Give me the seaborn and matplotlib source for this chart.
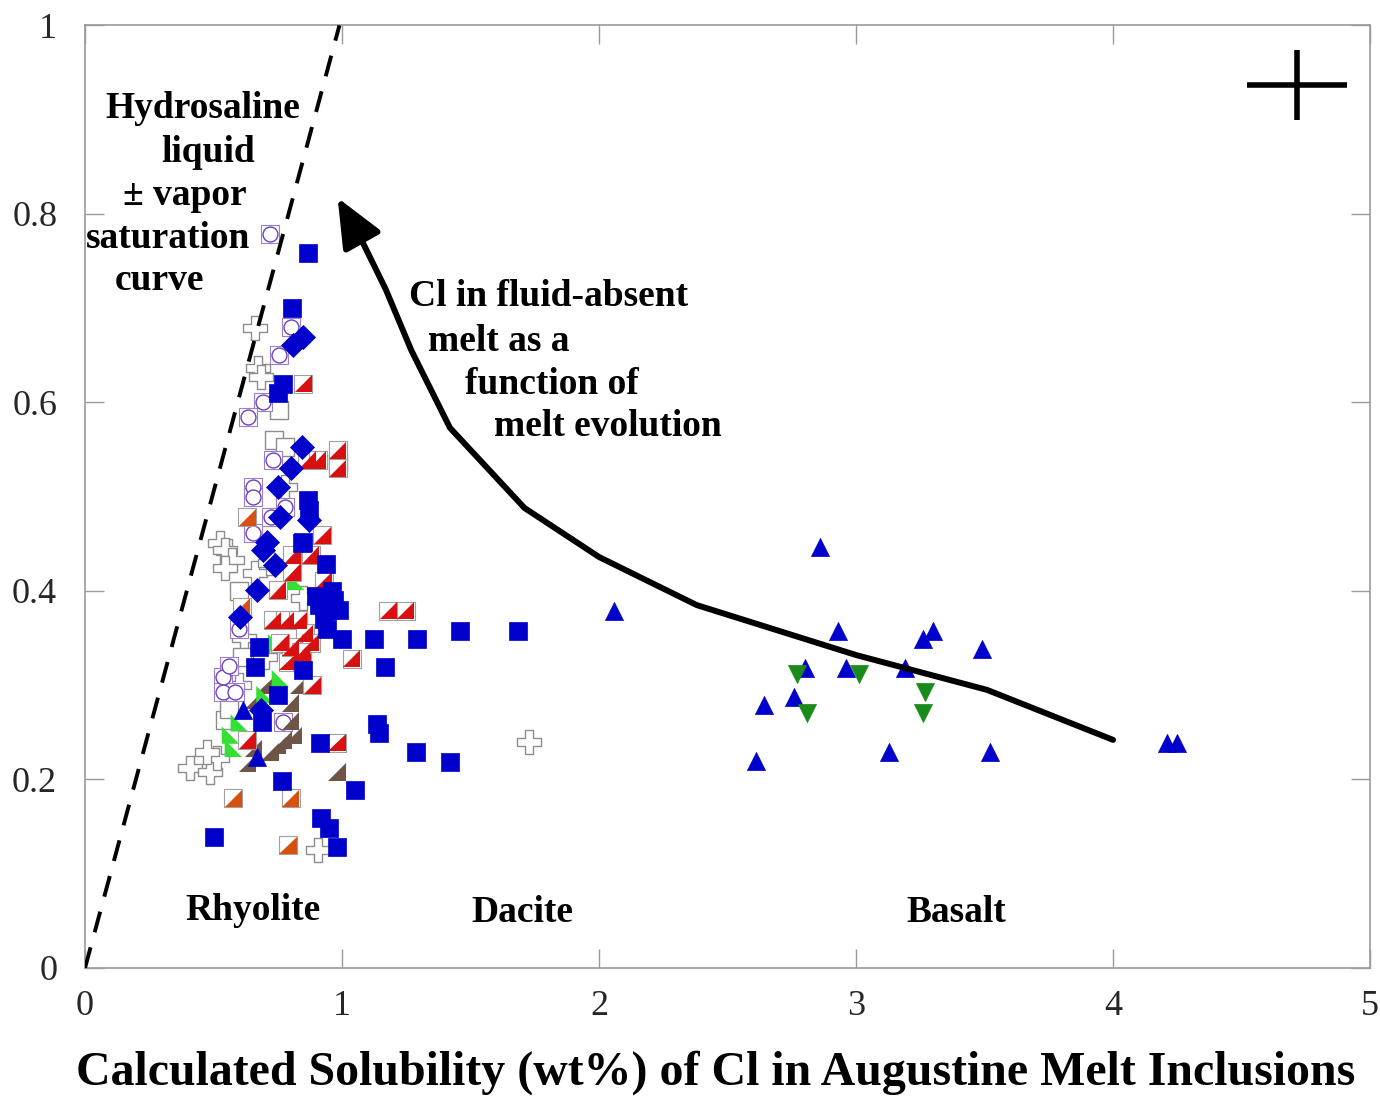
import numpy as np
import pandas as pd
import matplotlib
matplotlib.use("Agg")
import matplotlib.pyplot as plt
from matplotlib.path import Path
import seaborn as sns

# ---------------- data ----------------
blue_sq_x = [1.46, 1.685, 1.125, 1.29, 1.0, 1.166, 1.135, 1.143, 1.287, 1.42,
             0.50, 0.768, 1.05, 0.917, 0.948, 0.98, 0.913,
             0.663, 0.85, 0.749, 0.69, 0.676,
             0.85, 0.936, 0.91, 0.95, 0.93, 0.97, 0.90, 0.96, 0.94, 0.99,
             0.866, 0.87, 0.846, 0.866, 0.807, 0.772, 0.749]
blue_sq_y = [0.358, 0.358, 0.349, 0.349, 0.349, 0.319, 0.259, 0.249, 0.229, 0.218,
             0.139, 0.198, 0.189, 0.159, 0.148, 0.128, 0.239,
             0.319, 0.316, 0.290, 0.261, 0.340,
             0.452, 0.429, 0.385, 0.380, 0.370, 0.390, 0.395, 0.400, 0.360, 0.380,
             0.496, 0.486, 0.451, 0.759, 0.700, 0.620, 0.610]

blue_dia_x = [0.694, 0.741, 0.67, 0.605, 0.846, 0.80, 0.749, 0.76, 0.71, 0.85, 0.811, 0.683, 0.87]
blue_dia_y = [0.443, 0.427, 0.401, 0.372, 0.553, 0.530, 0.510, 0.478, 0.452, 0.669, 0.661, 0.274, 0.475]

purple_x = [0.72, 0.80, 0.753, 0.694, 0.636, 0.73, 0.655, 0.655, 0.78, 0.722, 0.655,
            0.538, 0.538, 0.585, 0.772, 0.56, 0.60]
purple_y = [0.779, 0.68, 0.65, 0.60, 0.584, 0.539, 0.51, 0.50, 0.489, 0.478, 0.461,
            0.309, 0.293, 0.293, 0.261, 0.32, 0.36]

cross_x = [0.663, 0.675, 0.683, 0.78, 0.527, 0.546, 0.573, 0.546, 0.663, 0.85,
           0.41, 0.488, 0.515, 0.476, 0.905, 1.728, 0.72, 0.62, 0.70, 0.60]
cross_y = [0.679, 0.637, 0.627, 0.51, 0.451, 0.443, 0.433, 0.424, 0.419, 0.393,
           0.212, 0.208, 0.223, 0.229, 0.125, 0.240, 0.43, 0.35, 0.33, 0.30]

open_sq_x = [0.735, 0.78, 0.753, 0.983, 0.546, 0.56, 0.61, 0.60]
open_sq_y = [0.56, 0.553, 0.592, 0.536, 0.263, 0.275, 0.33, 0.40]

half_red_x = [1.18, 1.248, 1.037, 0.98, 0.79, 0.846, 0.885, 0.632, 0.807, 0.878, 0.807,
              0.928, 0.749, 0.73, 0.78, 0.83, 0.855, 0.878, 0.865, 0.905, 0.983, 0.983,
              0.924, 0.85, 0.80, 0.84, 0.76]
half_red_y = [0.379, 0.379, 0.328, 0.239, 0.325, 0.325, 0.300, 0.242, 0.438, 0.438, 0.420,
              0.411, 0.401, 0.369, 0.369, 0.369, 0.355, 0.345, 0.539, 0.539, 0.549, 0.530,
              0.459, 0.620, 0.340, 0.335, 0.345]

half_orange_x = [0.577, 0.80, 0.79, 0.632, 0.61]
half_orange_y = [0.180, 0.180, 0.130, 0.478, 0.383]

brown_x = [0.98, 0.80, 0.655, 0.655, 0.632, 0.749, 0.772, 0.811, 0.72, 0.80, 0.83, 0.70]
brown_y = [0.208, 0.281, 0.284, 0.233, 0.217, 0.236, 0.242, 0.247, 0.229, 0.262, 0.30, 0.30]

green_x = [0.76, 0.566, 0.577, 0.82, 0.745, 0.60, 0.70]
green_y = [0.307, 0.247, 0.233, 0.41, 0.345, 0.26, 0.29]

basalt_up_x = [2.86, 2.93, 3.30, 3.26, 3.49, 2.80, 2.96, 3.19, 2.76, 2.64, 3.13, 3.52, 2.61,
               4.21, 4.25, 2.06, 0.616, 0.671]
basalt_up_y = [0.447, 0.358, 0.358, 0.349, 0.338, 0.318, 0.318, 0.318, 0.288, 0.279, 0.229,
               0.229, 0.220, 0.239, 0.239, 0.379, 0.274, 0.224]

basalt_down_x = [2.77, 3.01, 3.27, 2.81, 3.26]
basalt_down_y = [0.312, 0.312, 0.293, 0.271, 0.271]

curve_x = [4.0, 3.51, 3.0, 2.38, 2.0, 1.71, 1.42, 1.27, 1.17, 1.08]
curve_y = [0.242, 0.295, 0.332, 0.385, 0.436, 0.488, 0.573, 0.655, 0.72, 0.77]
arrow_tip = (0.983, 0.817)

sat_x = [0.0, 0.99]
sat_y = [0.0, 1.0]

err_center = (4.715, 0.937)
err_dx = 0.195
err_dy = 0.037

x_ticks = [0, 1, 2, 3, 4, 5]
y_ticks = [0, 0.2, 0.4, 0.6, 0.8, 1]
y_ticklabels = ["0", "0.2", "0.4", "0.6", "0.8", "1"]

x_label = 'Calculated Solubility (wt%) of Cl in Augustine Melt Inclusions'

# ---------------- style ----------------
sns.set_theme(style="white")
plt.rcParams['font.family'] = ['Liberation Serif', 'DejaVu Serif']
plt.rcParams['axes.edgecolor'] = '#9a9a9a'
plt.rcParams['axes.linewidth'] = 1.2

fig = plt.figure(figsize=(13.8, 11.01), dpi=100)
ax = fig.add_axes([0.0616, 0.1208, 0.9312, 0.8562])
ax.set_facecolor('white')

tri_lr = Path([(-1, -1), (1, -1), (1, 1), (-1, -1)], [Path.MOVETO, Path.LINETO, Path.LINETO, Path.CLOSEPOLY])
tri_ll = Path([(-1, -1), (1, -1), (-1, 1), (-1, -1)], [Path.MOVETO, Path.LINETO, Path.LINETO, Path.CLOSEPOLY])

S = 155

def sc(x, y, **kw):
    sns.scatterplot(x=x, y=y, ax=ax, legend=False, **kw)

# open crosses
sc(cross_x, cross_y, marker='P', s=280, color='white', edgecolor='#8c8c8c', linewidth=1.0, zorder=3)
# open squares
sc(open_sq_x, open_sq_y, marker='s', s=S, color='white', edgecolor='#8c8c8c', linewidth=1.0, zorder=3)
# purple circle in square
sc(purple_x, purple_y, marker='s', s=S, color='white', edgecolor='#9a80d0', linewidth=0.8, zorder=3)
sc(purple_x, purple_y, marker='o', s=115, color='white', edgecolor='#7040c0', linewidth=1.0, zorder=3)
# brown half triangles
sc(brown_x, brown_y, marker=tri_lr, s=S, color='#6e5548', edgecolor='none', linewidth=0, zorder=4)
# green half triangles
sc(green_x, green_y, marker=tri_ll, s=S, color='#33e033', edgecolor='none', linewidth=0, zorder=4)
# half-red squares
sc(half_red_x, half_red_y, marker='s', s=S, color='white', edgecolor='#a0a0a0', linewidth=0.8, zorder=4)
sc(half_red_x, half_red_y, marker=tri_lr, s=S, color='#d81010', edgecolor='none', linewidth=0, zorder=4)
sc(half_orange_x, half_orange_y, marker='s', s=S, color='white', edgecolor='#a0a0a0', linewidth=0.8, zorder=4)
sc(half_orange_x, half_orange_y, marker=tri_lr, s=S, color='#d85010', edgecolor='none', linewidth=0, zorder=4)
# blue squares & diamonds
sc(blue_sq_x, blue_sq_y, marker='s', s=S, color='#0000cc', edgecolor='#0000cc', linewidth=0.5, zorder=5)
sc(blue_dia_x, blue_dia_y, marker='D', s=150, color='#0000cc', edgecolor='#0000cc', linewidth=0.5, zorder=5)
# basalt triangles
sc(basalt_up_x, basalt_up_y, marker='^', s=170, color='#0000cc', edgecolor='#0000cc', linewidth=0.5, zorder=5)
sc(basalt_down_x, basalt_down_y, marker='v', s=170, color='#1a8a1a', edgecolor='#1a8a1a', linewidth=0.5, zorder=5)

# saturation curve
sns.lineplot(x=sat_x, y=sat_y, ax=ax, color='black', linewidth=2.8, sort=False,
             linestyle=(0, (5.5, 4.0)), zorder=6)
# evolution curve
sns.lineplot(x=curve_x, y=curve_y, ax=ax, color='black', linewidth=4.3, sort=False, zorder=6)
ax.annotate('', xy=arrow_tip, xytext=(curve_x[-1], curve_y[-1]),
            arrowprops=dict(arrowstyle='-|>,head_length=1.5,head_width=0.65', mutation_scale=20,
                            lw=4.3, color='black', shrinkA=0, shrinkB=0), zorder=7)

# error cross
ax.errorbar([err_center[0]], [err_center[1]], xerr=[err_dx], yerr=[err_dy], fmt='none',
            ecolor='black', elinewidth=4.0, capsize=0, zorder=6)

# texts
tkw = dict(fontsize=27, fontweight='bold', color='black', zorder=8)
ax.text(0.46, 0.912, 'Hydrosaline', ha='center', va='center', **tkw)
ax.text(0.48, 0.865, 'liquid', ha='center', va='center', **tkw)
ax.text(0.39, 0.820, '± vapor', ha='center', va='center', **tkw)
ax.text(0.325, 0.774, 'saturation', ha='center', va='center', **tkw)
ax.text(0.29, 0.729, 'curve', ha='center', va='center', **tkw)

ax.text(1.26, 0.712, 'Cl in fluid-absent', ha='left', va='center', **tkw)
ax.text(1.334, 0.665, 'melt as a', ha='left', va='center', **tkw)
ax.text(1.478, 0.619, 'function of', ha='left', va='center', **tkw)
ax.text(1.59, 0.574, 'melt evolution', ha='left', va='center', **tkw)

ax.text(0.655, 0.0615, 'Rhyolite', ha='center', va='center', **tkw)
ax.text(1.70, 0.059, 'Dacite', ha='center', va='center', **tkw)
ax.text(3.39, 0.059, 'Basalt', ha='center', va='center', **tkw)

# axes
ax.set_xlim(0, 5)
ax.set_ylim(0, 1)
ax.set_xticks(x_ticks)
ax.set_xticklabels([str(t) for t in x_ticks])
ax.set_yticks(y_ticks)
ax.set_yticklabels(y_ticklabels)
ax.tick_params(axis='both', direction='in', length=14, width=1.0, color='#9a9a9a',
               labelsize=26, top=True, right=True, bottom=True, left=True)
ax.tick_params(axis='x', pad=16)
ax.tick_params(axis='y', pad=20)
for sp in ax.spines.values():
    sp.set_visible(True)
    sp.set_color('#9a9a9a')
ax.set_xlabel('')
ax.set_ylabel('')
ax.grid(False)

fig.text(716 / 1380, 1 - 1073 / 1101, x_label, ha='center', va='center',
         fontsize=34.5, fontweight='bold', color='black')

fig.savefig('out.png', dpi=100, facecolor='white')
